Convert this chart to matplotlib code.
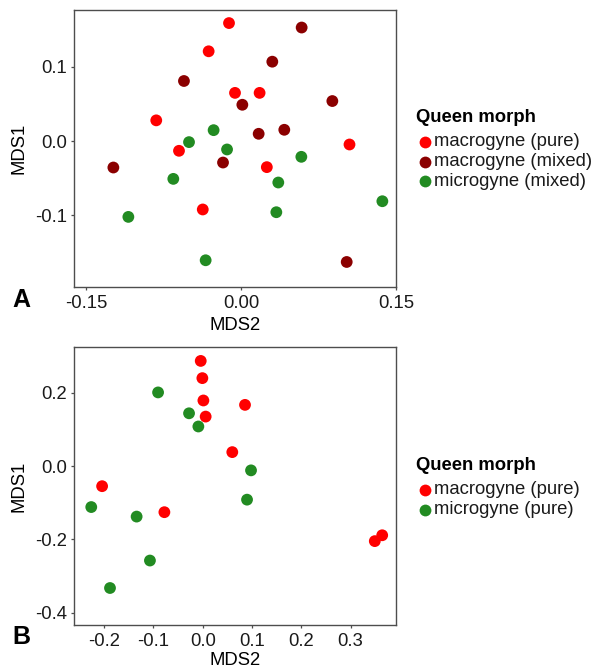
import matplotlib
matplotlib.use("Agg")
import matplotlib.pyplot as plt
from matplotlib.lines import Line2D

plt.rcParams['font.family'] = ['Liberation Sans', 'DejaVu Sans']

# ---- Panel A data (MDS2 = x, MDS1 = y) ----
a_macro_pure_x = [-0.0116, -0.0313, -0.0058, 0.018, -0.082, -0.060, 0.025, -0.037, 0.105]
a_macro_pure_y = [0.159, 0.121, 0.065, 0.065, 0.028, -0.013, -0.035, -0.092, -0.0045]
a_macro_mixed_x = [0.0587, 0.0303, -0.0552, 0.0884, 0.0013, 0.0171, 0.0419, -0.0174, -0.1235, 0.1023]
a_macro_mixed_y = [0.153, 0.107, 0.081, 0.054, 0.049, 0.0099, 0.0153, -0.0288, -0.0355, -0.1627]
a_micro_mixed_x = [-0.0265, -0.0503, -0.0135, 0.0584, -0.0655, 0.0361, -0.109, 0.0342, 0.1368, -0.0342]
a_micro_mixed_y = [0.0148, -0.0013, -0.0112, -0.0211, -0.0508, -0.0557, -0.102, -0.0957, -0.0809, -0.1604]

# ---- Panel B data ----
b_macro_pure_x = [-0.004, -0.0007, 0.0014, 0.006, 0.0858, 0.060, -0.204, -0.0777, 0.349, 0.364]
b_macro_pure_y = [0.287, 0.240, 0.179, 0.135, 0.167, 0.038, -0.055, -0.126, -0.205, -0.189]
b_micro_pure_x = [-0.0905, -0.0277, -0.0088, 0.098, 0.0899, -0.226, -0.134, -0.107, -0.188]
b_micro_pure_y = [0.201, 0.144, 0.108, -0.0118, -0.0918, -0.112, -0.138, -0.258, -0.333]

a_xticks = [-0.15, 0.0, 0.15]
a_xticklabels = ['-0.15', '0.00', '0.15']
a_yticks = [-0.1, 0.0, 0.1]
a_yticklabels = ['-0.1', '0.0', '0.1']
b_xticks = [-0.2, -0.1, 0.0, 0.1, 0.2, 0.3]
b_xticklabels = ['-0.2', '-0.1', '0.0', '0.1', '0.2', '0.3']
b_yticks = [-0.4, -0.2, 0.0, 0.2]
b_yticklabels = ['-0.4', '-0.2', '0.0', '0.2']

RED = '#FF0000'
DARKRED = '#8B0000'
GREEN = '#228B22'
FS = 13.3
S = 72

fig = plt.figure(figsize=(5.96, 6.71), dpi=100)
W, H = 596, 671

def make_axes(l, t, r, b):
    return fig.add_axes([l / W, 1 - b / H, (r - l) / W, (b - t) / H])

def style(ax):
    for sp in ax.spines.values():
        sp.set_color('#4d4d4d')
        sp.set_linewidth(1.0)
    ax.tick_params(length=2.5, width=0.9, color='#4d4d4d', labelsize=FS,
                   labelcolor='#1a1a1a')
    ax.tick_params(axis='x', pad=3.5)
    ax.tick_params(axis='y', pad=2.5)

axA = make_axes(74, 10, 396, 287)
axA.scatter(a_macro_pure_x, a_macro_pure_y, s=S, c=RED, edgecolors='none', zorder=3)
axA.scatter(a_macro_mixed_x, a_macro_mixed_y, s=S, c=DARKRED, edgecolors='none', zorder=3)
axA.scatter(a_micro_mixed_x, a_micro_mixed_y, s=S, c=GREEN, edgecolors='none', zorder=3)
axA.set_xlim(-0.1616, 0.150)
axA.set_ylim(-0.1964, 0.1766)
axA.set_xticks(a_xticks, a_xticklabels)
axA.set_yticks(a_yticks, a_yticklabels)
axA.set_xlabel('MDS2', fontsize=FS, labelpad=3.5)
axA.set_ylabel('MDS1', fontsize=FS, labelpad=5.5)
style(axA)

axB = make_axes(74, 347, 396, 625)
axB.scatter(b_macro_pure_x, b_macro_pure_y, s=S, c=RED, edgecolors='none', zorder=3)
axB.scatter(b_micro_pure_x, b_micro_pure_y, s=S, c=GREEN, edgecolors='none', zorder=3)
axB.set_xlim(-0.261, 0.392)
axB.set_ylim(-0.434, 0.325)
axB.set_xticks(b_xticks, b_xticklabels)
axB.set_yticks(b_yticks, b_yticklabels)
axB.set_xlabel('MDS2', fontsize=FS, labelpad=1.5)
axB.set_ylabel('MDS1', fontsize=FS, labelpad=5.5)
style(axB)

def legend(labels, colors, title_y):
    fig.text(416 / W, 1 - title_y / H, 'Queen morph', fontsize=FS, fontweight='bold',
             ha='left', va='center', color='#000000')
    for i, (lab, col) in enumerate(zip(labels, colors)):
        y = title_y + 25 + i * 19.5
        fig.add_artist(Line2D([425 / W], [1 - y / H], marker='o', markersize=8.5,
                              color=col, markeredgewidth=0, linestyle='none',
                              transform=fig.transFigure))
        fig.text(434 / W, 1 - y / H, lab, fontsize=FS, ha='left', va='center',
                 color='#1a1a1a')

legend(['macrogyne (pure)', 'macrogyne (mixed)', 'microgyne (mixed)'],
       [RED, DARKRED, GREEN], 117)
legend(['macrogyne (pure)', 'microgyne (pure)'], [RED, GREEN], 465)

fig.text(12 / W, 1 - 300 / H, 'A', fontsize=18, fontweight='bold', ha='left', va='center')
fig.text(12 / W, 1 - 637 / H, 'B', fontsize=18, fontweight='bold', ha='left', va='center')

fig.savefig('out.png', dpi=100)
